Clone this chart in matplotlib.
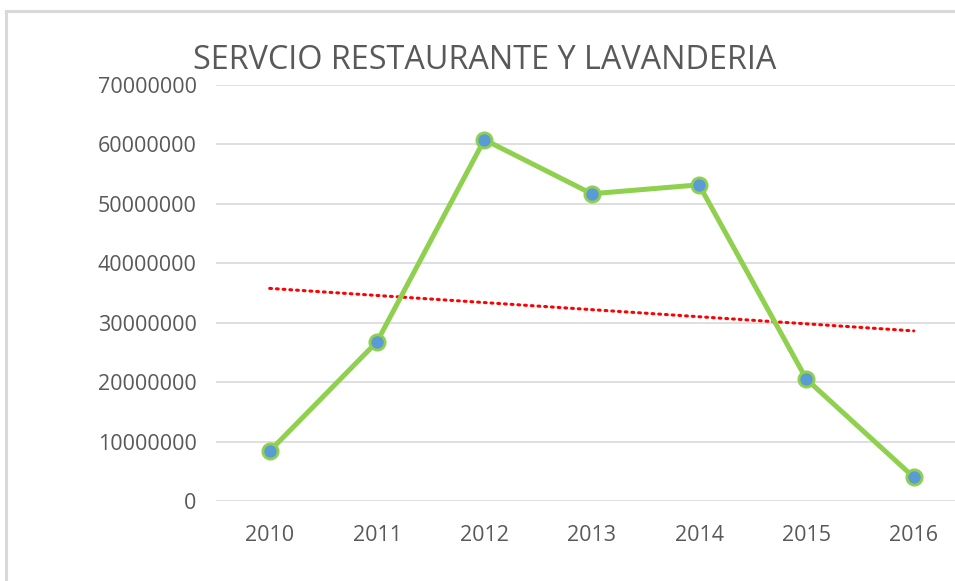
import matplotlib
matplotlib.use("Agg")
import matplotlib.pyplot as plt
import numpy as np
from matplotlib.lines import Line2D

years = ["2010", "2011", "2012", "2013", "2014", "2015", "2016"]
values = [8400000, 26800000, 60800000, 51700000, 53200000, 20500000, 4000000]
yticks = [0, 10000000, 20000000, 30000000, 40000000, 50000000, 60000000, 70000000]
title = "SERVCIO RESTAURANTE Y LAVANDERIA"

plt.rcParams['font.family'] = ['Open Sans', 'DejaVu Sans']

fig = plt.figure(figsize=(9.55, 5.81), dpi=100)
ax = fig.add_axes([0.2262, 0.1377, 0.7868, 0.716])

x = np.arange(len(years))
ax.set_xlim(-0.5, len(years) - 0.5)
ax.set_ylim(0, 70000000)
ax.set_yticks(yticks)
ax.set_yticklabels([str(v) for v in yticks])
ax.set_xticks(x)
ax.set_xticklabels(years)
ax.grid(axis='y', color='#d9d9d9', linewidth=1.2)
ax.set_axisbelow(True)
for s in ax.spines.values():
    s.set_visible(False)
ax.tick_params(length=0, labelsize=15.5, colors='#595959')
ax.tick_params(axis='y', pad=14)
ax.tick_params(axis='x', pad=17)

# linear trend
coef = np.polyfit(x, values, 1)
trend = np.polyval(coef, x)
ax.plot(x, trend, color='#ff0000', linewidth=2.2, linestyle=(0, (0.6, 1.6)),
        dash_capstyle='round', zorder=2)

ax.plot(x, values, color='#8fd14f', linewidth=3.6, marker='o', markersize=11,
        markerfacecolor='#5b9bd5', markeredgecolor='#8fd14f', markeredgewidth=2,
        solid_capstyle='round', zorder=3)

fig.text(0.508, 0.896, title, ha='center', va='center', fontsize=23.3, color='#595959')

# outer chart border (partial, as in reference)
fig.add_artist(Line2D([6/955, 6/955], [0, 1 - 11/581], transform=fig.transFigure,
                      color='#d9d9d9', linewidth=2.2))
fig.add_artist(Line2D([6/955, 1], [1 - 11/581, 1 - 11/581], transform=fig.transFigure,
                      color='#d9d9d9', linewidth=2.2))

fig.savefig("out.png", dpi=100)
